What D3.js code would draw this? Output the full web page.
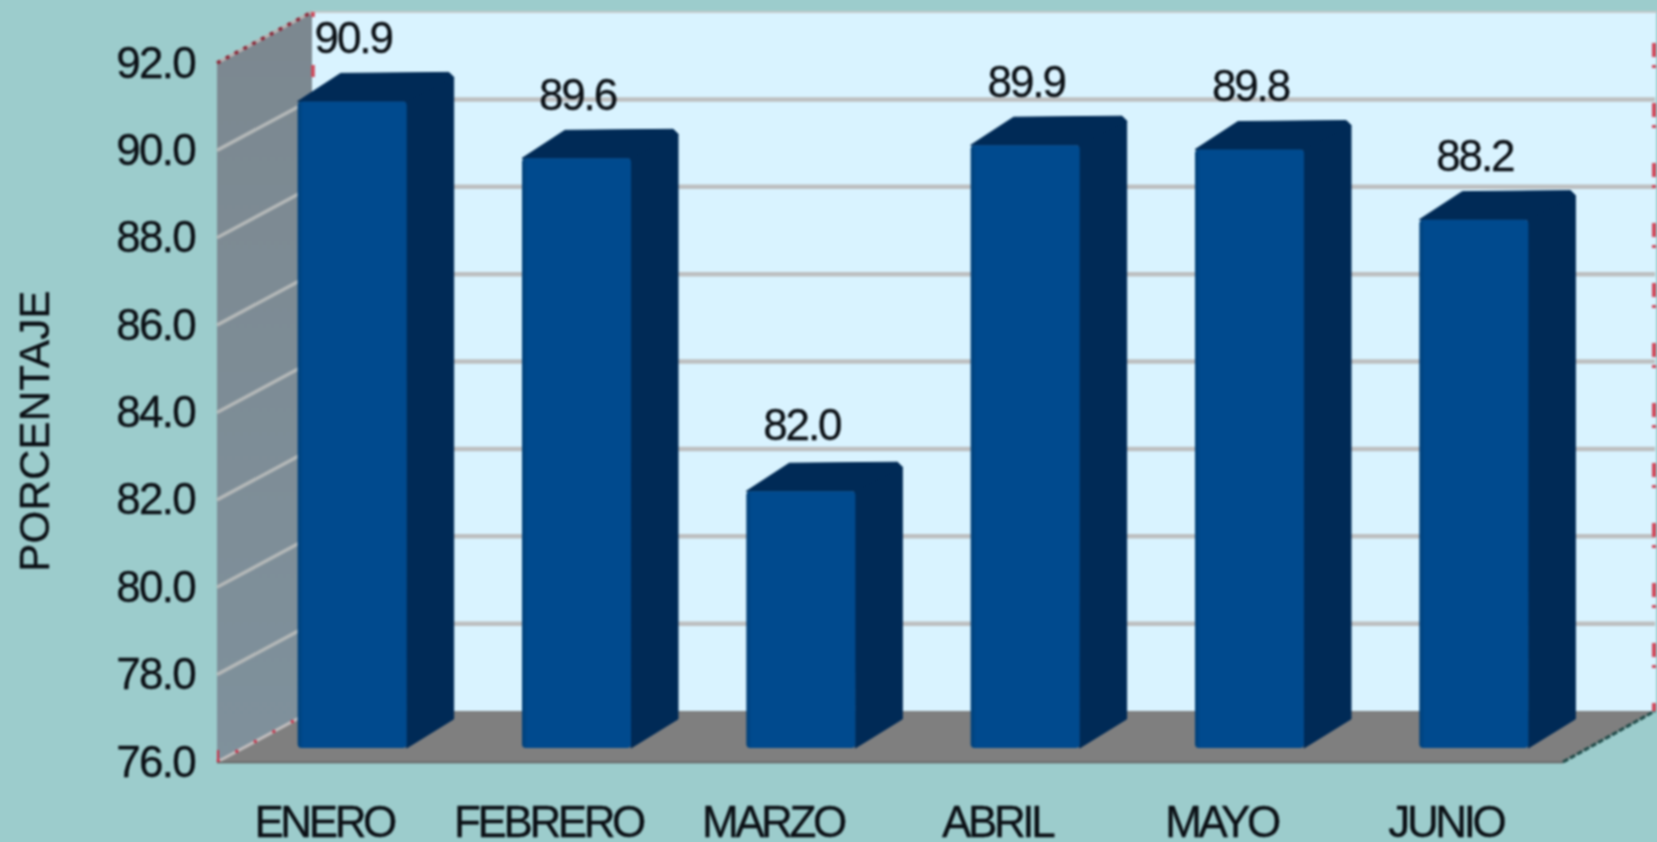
<!DOCTYPE html>
<html><head><meta charset="utf-8">
<script src="https://cdn.jsdelivr.net/npm/d3@7"></script>
<style>html,body{margin:0;padding:0;background:#9ccccc;overflow:hidden}svg{display:block;filter:blur(0.9px)}
text{font-family:"Liberation Sans",Arial,sans-serif;fill:#0a0f14;stroke:#0a0f14;stroke-width:0.3px}</style></head><body>
<script>
const categories=["ENERO","FEBRERO","MARZO","ABRIL","MAYO","JUNIO"];
const values=[90.9,89.6,82.0,89.9,89.8,88.2];
const ticks=[76,78,80,82,84,86,88,90,92];
const W=1657,H=842;
const floorL=217,floorR=1563,frontBottom=762,frontTop=63,depthX=95,depthY=51;
const barBottom=748,barZero=754,barUnit=43.8,barDX=47,barDY=29,barW=109;
const svg=d3.select("body").append("svg").attr("width",W).attr("height",H);
svg.append("rect").attr("width",W).attr("height",H).attr("fill","#9ccccc");
const y=d3.scaleLinear().domain([76,92]).range([frontBottom,frontTop]);
const yBar=d3.scaleLinear().domain([76,92]).range([barZero,barZero-16*barUnit]);
const yLabel=d3.scaleLinear().domain([76,92]).range([700,700-16*43.4]);
const xLabel=d3.scaleBand().domain(categories).range([floorL-5,floorR-5]);
const step=(floorR-floorL)/6,pi=1-barW/step;
const xBar=d3.scaleBand().domain(categories).range([floorL+23,floorR+23]).paddingInner(pi).paddingOuter(pi/2);
const defs=svg.append("defs");
const wg=defs.append("linearGradient").attr("id","wall").attr("x1",0).attr("x2",0).attr("y1",0).attr("y2",1);
wg.append("stop").attr("offset",0).attr("stop-color","#7c8890");
wg.append("stop").attr("offset",1).attr("stop-color","#7f919c");
const fg=defs.append("linearGradient").attr("id","bar").attr("x1",0).attr("x2",1).attr("y1",0).attr("y2",0);
fg.append("stop").attr("offset",0).attr("stop-color","#014078");
fg.append("stop").attr("offset",0.05).attr("stop-color","#004a8e");
fg.append("stop").attr("offset",1).attr("stop-color","#004a8e");
const P=(a)=>"M"+a.map(p=>p.join(",")).join("L")+"Z";
// back wall
svg.append("rect").attr("x",floorL+depthX).attr("y",y(92)-depthY).attr("width",W-floorL-depthX-1).attr("height",y(76)-y(92)).attr("fill","#d9f3ff");
svg.append("line").attr("x1",floorL+depthX).attr("x2",W).attr("y1",y(92)-depthY).attr("y2",y(92)-depthY).attr("stroke","#c4c8ca").attr("stroke-width",2);
// side wall
svg.append("path").attr("d",P([[floorL,y(92)],[floorL+depthX,y(92)-depthY],[floorL+depthX,y(76)-depthY],[floorL,y(76)]])).attr("fill","url(#wall)");
// floor
svg.append("path").attr("d",P([[floorL,y(76)],[floorL+depthX,y(76)-depthY],[floorR+depthX-3,y(76)-depthY],[floorR,y(76)]])).attr("fill","#7f7f7f");
// gridlines
const grid=ticks.filter(t=>t>76&&t<92);
svg.selectAll(".gb").data(grid).join("line").attr("x1",floorL+depthX).attr("x2",W-2).attr("y1",d=>y(d)-depthY).attr("y2",d=>y(d)-depthY).attr("stroke","#bdbfc0").attr("stroke-width",4.5);
svg.selectAll(".gw").data(grid).join("line").attr("x1",floorL).attr("x2",floorL+depthX).attr("y1",d=>y(d)).attr("y2",d=>y(d)-depthY).attr("stroke","#b4b8b8").attr("stroke-width",3.5);
// base line of wall/floor
svg.append("line").attr("x1",floorL).attr("x2",floorL+depthX).attr("y1",y(76)).attr("y2",y(76)-depthY).attr("stroke","#c0bcbc").attr("stroke-width",3);
svg.append("line").attr("x1",floorL).attr("x2",floorL+depthX).attr("y1",y(76)).attr("y2",y(76)-depthY).attr("stroke","#c83048").attr("stroke-width",3).attr("stroke-dasharray","3 18");
svg.append("line").attr("x1",floorL).attr("x2",floorL+depthX).attr("y1",y(92)).attr("y2",y(92)-depthY).attr("stroke","#b8b0b0").attr("stroke-width",3);
svg.append("line").attr("x1",floorL).attr("x2",floorL+depthX).attr("y1",y(92)).attr("y2",y(92)-depthY).attr("stroke","#8a2838").attr("stroke-width",3.5).attr("stroke-dasharray","4 6");
svg.append("line").attr("x1",floorL).attr("x2",floorR).attr("y1",y(76)+0.5).attr("y2",y(76)+0.5).attr("stroke","#5f5f5f").attr("stroke-width",1.5);
svg.append("line").attr("x1",floorR).attr("x2",floorR+depthX-3).attr("y1",y(76)).attr("y2",y(76)-depthY).attr("stroke","#1f4a48").attr("stroke-width",3).attr("stroke-dasharray","6 2");
// red edges
svg.append("line").attr("x1",floorL+depthX+1).attr("x2",floorL+depthX+1).attr("y1",y(92)-depthY).attr("y2",y(76)-depthY).attr("stroke","#d0485a").attr("stroke-width",3.5).attr("stroke-dasharray","12 48").attr("stroke-dashoffset",-53);
svg.append("line").attr("x1",W-3).attr("x2",W-3).attr("y1",y(92)-depthY).attr("y2",y(76)-depthY).attr("stroke","#d0485a").attr("stroke-width",4).attr("stroke-dasharray","14 8 3 35").attr("stroke-dashoffset",-31);
svg.append("line").attr("x1",floorL+1).attr("x2",floorL+1).attr("y1",y(76)-12).attr("y2",y(76)).attr("stroke","#c83048").attr("stroke-width",2);
// bars
const bars=svg.selectAll(".bar").data(categories).join("g");
bars.append("path").attr("d",(c,i)=>{const x=xBar(c)+barW,t=yBar(values[i]);return P([[x-1,t],[x+barDX-5,t-barDY],[x+barDX,t-barDY+5],[x+barDX,barBottom-barDY],[x,barBottom]]);}).attr("fill","#002a56").attr("stroke","#002a56").attr("stroke-width",1).attr("stroke-linejoin","round");
bars.append("path").attr("d",(c,i)=>{const x=xBar(c),t=yBar(values[i]);return P([[x,t],[x+barDX-4,t-barDY+1],[x+barW+barDX-5,t-barDY],[x+barW+barDX,t-barDY+5],[x+barW,t]]);}).attr("fill","#002a56").attr("stroke","#002a56").attr("stroke-width",1).attr("stroke-linejoin","round");
bars.append("rect").attr("x",c=>xBar(c)).attr("y",(c,i)=>yBar(values[i])).attr("width",xBar.bandwidth()).attr("height",(c,i)=>barBottom-yBar(values[i])).attr("rx",4).attr("fill","url(#bar)");
// value labels
svg.selectAll(".val").data(categories).join("text").attr("x",c=>xBar(c)+barW/2+1).attr("y",(c,i)=>yLabel(values[i])).attr("text-anchor","middle").attr("font-size",44).attr("letter-spacing",-2.1).text((c,i)=>values[i].toFixed(1));
// y axis
const ax=svg.append("g").attr("transform","translate(195,0)").call(d3.axisLeft(y).tickValues(ticks).tickSize(0).tickPadding(0).tickFormat(d3.format(".1f")));
ax.select(".domain").remove();
ax.selectAll("text").attr("font-size",44).attr("letter-spacing",-1.7).style("font-family",'"Liberation Sans"').style("fill","#0a0f14");
// category labels
svg.selectAll(".cat").data(categories).join("text").attr("x",c=>xLabel(c)+xLabel.bandwidth()/2).attr("y",837).attr("text-anchor","middle").attr("font-size",44).attr("letter-spacing",-3.4).text(c=>c);
// axis title
svg.append("text").attr("transform","translate(49,431) rotate(-90)").attr("text-anchor","middle").attr("font-size",42).attr("letter-spacing",0.2).text("PORCENTAJE");
</script></body></html>
